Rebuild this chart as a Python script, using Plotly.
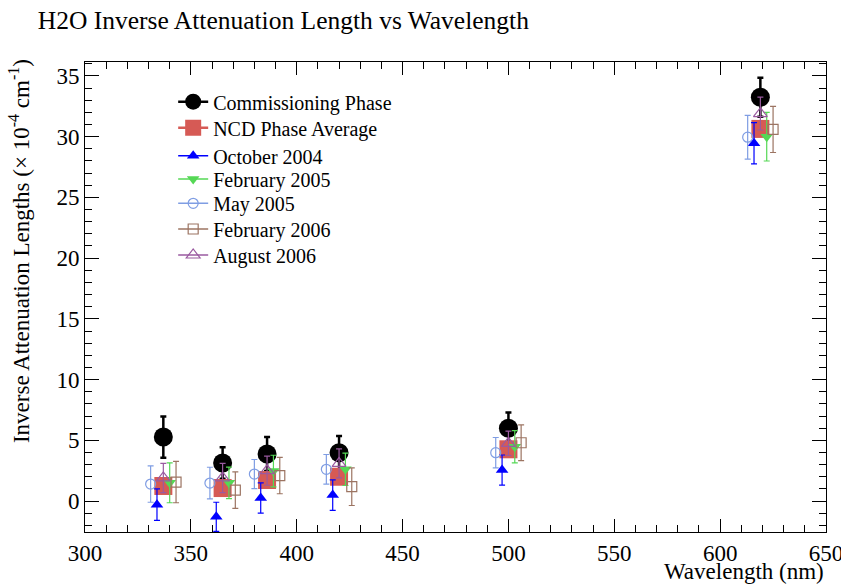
import plotly.graph_objects as go

# Wavelengths (nm) of each measurement series
wl_commissioning = [337, 365, 386, 420, 500, 619]
wl_ncd = [337, 365, 386, 420, 500, 619]
wl_oct2004 = [334, 362, 383, 417, 497, 616]
wl_feb2005 = [340, 368, 389, 423, 503, 622]
wl_may2005 = [331, 359, 380, 414, 494, 613]
wl_feb2006 = [343, 371, 392, 426, 506, 625]
wl_aug2006 = [337, 365, 386, 420, 500, 619]

# Inverse attenuation lengths (x 10^-4 cm^-1) and uncertainties
commissioning = [5.27, 3.13, 3.87, 3.98, 5.99, 33.25]
commissioning_err = [1.7, 1.3, 1.4, 1.37, 1.3, 1.6]
ncd_average = [1.24, 1.07, 1.73, 2.0, 4.26, 30.64]
oct2004 = [-0.3, -1.3, 0.25, 0.49, 2.55, 29.46]
oct2004_err = [1.3, 1.2, 1.25, 1.26, 1.24, 1.7]
feb2005 = [1.5, 1.5, 2.47, 2.61, 4.47, 30.0]
feb2005_err = [1.64, 1.3, 1.3, 1.33, 1.33, 2.0]
may2005 = [1.4, 1.48, 2.22, 2.61, 3.98, 29.96]
may2005_err = [1.5, 1.3, 1.2, 1.22, 1.25, 1.8]
feb2006 = [1.56, 0.9, 2.1, 1.18, 4.8, 30.6]
feb2006_err = [1.7, 1.5, 1.5, 1.55, 1.47, 1.9]
aug2006 = [1.9, 1.9, 2.5, 3.1, 4.75, 31.9]
aug2006_err = [1.2, 1.2, 1.2, 1.2, 1.0, 1.35]

FONT = "Liberation Serif"


def gapped(values):
    """Put a None between points so no connecting line is drawn,
    while the legend still shows the line style."""
    out = []
    for v in values:
        out += [v, None]
    return out[:-1]


def series(name, legend, xs, ys, errs, color, symbol, size, lw,
           mline=None, err_th=1.2):
    err = None
    if errs is not None:
        err = dict(type="data", array=gapped(errs), symmetric=True,
                   color=color, thickness=err_th, width=3)
    return go.Scatter(
        x=gapped(xs), y=gapped(ys), name=name, legend=legend,
        mode="lines+markers",
        line=dict(color=color, width=lw),
        marker=dict(symbol=symbol, size=size, color=color,
                    line=dict(color=color, width=mline if mline else 0)),
        error_y=err, connectgaps=False,
    )


fig = go.Figure()
fig.add_trace(series("Commissioning Phase", "legend", wl_commissioning,
                     commissioning, commissioning_err, "#000000", "circle",
                     19, 2.5, err_th=2.5))
fig.add_trace(series("NCD Phase Average", "legend2", wl_ncd, ncd_average,
                     None, "#d65a55", "square", 18, 2.5))
fig.add_trace(series("October 2004", "legend3", wl_oct2004, oct2004,
                     oct2004_err, "#0000ff", "triangle-up", 11, 1.5))
fig.add_trace(series("February 2005", "legend4", wl_feb2005, feb2005,
                     feb2005_err, "#55d855", "triangle-down", 11, 1.5))
fig.add_trace(series("May 2005", "legend5", wl_may2005, may2005,
                     may2005_err, "#7f9de3", "circle-open", 10, 1.5,
                     mline=1.2))
fig.add_trace(series("February 2006", "legend6", wl_feb2006, feb2006,
                     feb2006_err, "#9c7462", "square-open", 10, 1.5,
                     mline=1.2))
fig.add_trace(series("August 2006", "legend7", wl_aug2006, aug2006,
                     aug2006_err, "#9a5aa0", "triangle-up-open", 12, 1.5,
                     mline=1.2))

axis_common = dict(
    showgrid=False, zeroline=False, showline=True, linecolor="black",
    linewidth=1, mirror="ticks", ticks="inside", tickcolor="black",
    tickwidth=1, tickfont=dict(family=FONT, size=23, color="black"),
    ticklabeloverflow="allow", automargin=False,
)

fig.update_xaxes(range=[300, 650], dtick=50, tick0=300, ticklen=13,
                 minor=dict(ticks="inside", dtick=10, ticklen=7,
                            tickcolor="black"),
                 **axis_common)
fig.update_yaxes(range=[-2.55, 36.15], dtick=5, tick0=0, ticklen=14,
                 minor=dict(ticks="inside", dtick=1, ticklen=7,
                            tickcolor="black"),
                 **axis_common)

# One single-entry legend per series, stacked with a tight row pitch
legend_rows = [0.9155, 0.8602, 0.8006, 0.7511, 0.6994, 0.6447, 0.5894]
legend_style = dict(x=0.119, xanchor="left", yanchor="middle",
                    bgcolor="rgba(0,0,0,0)",
                    font=dict(family=FONT, size=20, color="black"))
legends = {}
for i, yrow in enumerate(legend_rows):
    key = "legend" if i == 0 else f"legend{i + 1}"
    legends[key] = dict(y=yrow, **legend_style)

fig.update_layout(
    width=841, height=585,
    margin=dict(l=85, r=15, t=62, b=53, autoexpand=False),
    paper_bgcolor="white", plot_bgcolor="white",
    font=dict(family=FONT, color="black"),
    title=dict(text="H2O Inverse Attenuation Length vs Wavelength",
               x=0.045, xanchor="left", y=0.965, yanchor="middle",
               font=dict(family=FONT, size=25.5, color="black")),
    showlegend=True,
    annotations=[
        dict(text="Wavelength (nm)", xref="paper", yref="paper",
             x=1, y=-0.085, xanchor="right", yanchor="middle",
             showarrow=False, font=dict(family=FONT, size=23)),
        dict(text="Inverse Attenuation Lengths (\u00d7 10<sup>-4</sup> cm<sup>-1</sup>)",
             xref="paper", yref="paper", x=-0.088, y=1.01,
             xanchor="center", yanchor="top", textangle=-90,
             showarrow=False, font=dict(family=FONT, size=23)),
    ],
    **legends,
)

fig.write_html("out.html")
